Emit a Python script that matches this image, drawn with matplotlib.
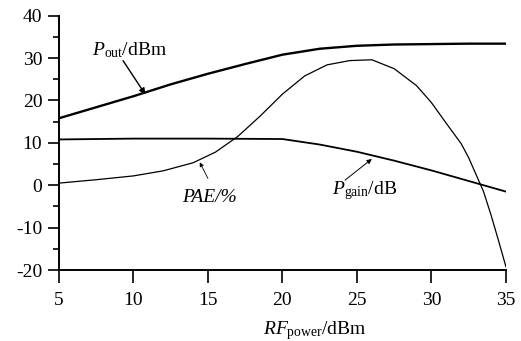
#Librerías
import matplotlib
matplotlib.use("Agg")
import matplotlib.pyplot as plt
from matplotlib.ticker import MultipleLocator

#Datos
x_pout = [5, 7.5, 10, 12.5, 15, 17.5, 20, 22.5, 25, 27.5, 30, 32.5, 35]
pout = [15.8, 18.4, 21.0, 23.8, 26.3, 28.6, 30.8, 32.2, 32.9, 33.2, 33.3, 33.4, 33.4]

x_gain = [5, 10, 15, 20, 22.5, 25, 27.5, 30, 32.5, 35]
gain = [10.8, 11.0, 11.0, 10.9, 9.6, 7.9, 5.8, 3.5, 1.0, -1.5]

x_pae = [5, 7.5, 10, 12, 14, 15.5, 17, 18.5, 20, 21.5, 23, 24.5, 26, 27.5,
         29, 30, 31, 32, 32.5, 33, 33.5, 34, 34.5, 35]
pae = [0.5, 1.3, 2.2, 3.4, 5.3, 7.8, 11.5, 16.3, 21.5, 25.8, 28.4, 29.4, 29.6,
       27.5, 23.5, 19.5, 14.6, 9.8, 6.5, 2.5, -1.5, -7.0, -13.0, -19.2]

x_ticks = [5, 10, 15, 20, 25, 30, 35]
y_ticks = [-20, -10, 0, 10, 20, 30, 40]

#Fuente
plt.rcParams["font.family"] = "Liberation Serif"
plt.rcParams["mathtext.fontset"] = "custom"
plt.rcParams["mathtext.rm"] = "Liberation Serif"
plt.rcParams["mathtext.it"] = "Liberation Serif:italic"
plt.rcParams["axes.unicode_minus"] = False

#Figura
fig = plt.figure(figsize=(5.21, 3.41), dpi=100)
ax = fig.add_axes([0.1132, 0.2082, 0.8578, 0.7458])

ax.plot(x_pout, pout, color="black", linewidth=1.7)
ax.plot(x_gain, gain, color="black", linewidth=1.3)
ax.plot(x_pae, pae, color="black", linewidth=0.9)

#Ejes
ax.set_xlim(5, 35)
ax.set_ylim(-20, 40)
ax.set_xticks(x_ticks)
ax.set_yticks(y_ticks)
ax.yaxis.set_minor_locator(MultipleLocator(5))
ax.spines["top"].set_visible(False)
ax.spines["right"].set_visible(False)
ax.spines["left"].set_linewidth(1.4)
ax.spines["bottom"].set_linewidth(1.4)
ax.tick_params(axis="x", which="major", direction="out", length=9, width=1.2,
               labelsize=14, pad=7)
ax.tick_params(axis="y", which="major", direction="out", length=8, width=1.2,
               labelsize=14, pad=4)
ax.tick_params(axis="y", which="minor", direction="out", length=4.5, width=1.2)

#Etiquetas de curvas
ax.text(7.2, 30.6, r"$P_{\mathrm{out}}$/dBm", fontsize=14, va="baseline")
ax.annotate("", xy=(10.8, 21.4), xytext=(9.3, 29.4),
            arrowprops=dict(arrowstyle="-|>", color="black", lw=1.0,
                            mutation_scale=9, shrinkA=0, shrinkB=0))

ax.text(13.25, -4.0, "PAE/%", fontsize=14, style="italic", va="baseline")
ax.annotate("", xy=(14.45, 5.4), xytext=(15.0, 1.6),
            arrowprops=dict(arrowstyle="-|>", color="black", lw=0.6,
                            mutation_scale=6, shrinkA=0, shrinkB=0))

ax.text(23.3, -2.2, r"$P_{\mathrm{gain}}$/dB", fontsize=14, va="baseline")
ax.annotate("", xy=(26.0, 6.2), xytext=(24.2, 1.2),
            arrowprops=dict(arrowstyle="-|>", color="black", lw=0.7,
                            mutation_scale=7, shrinkA=0, shrinkB=0))

#Título del eje x
fig.text(315 / 521, 1 - 334 / 341, r"$RF_{\mathrm{power}}$/dBm",
         fontsize=14, ha="center", va="baseline")

fig.savefig("out.png", dpi=100)
